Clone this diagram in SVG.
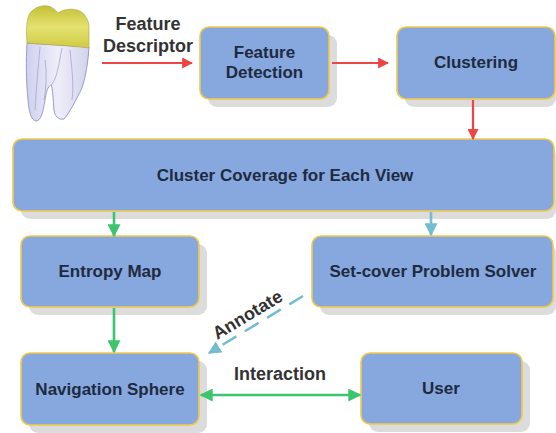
<svg xmlns="http://www.w3.org/2000/svg" width="556" height="433" viewBox="0 0 556 433">
  <defs>
    <marker id="ah-red" viewBox="0 0 10 10" refX="9" refY="5" markerWidth="11" markerHeight="11" markerUnits="userSpaceOnUse" orient="auto-start-reverse">
      <path d="M0,0 L10,5 L0,10 Z" fill="#ef4444"/>
    </marker>
    <marker id="ah-green" viewBox="0 0 10 10" refX="9" refY="5" markerWidth="13" markerHeight="13" markerUnits="userSpaceOnUse" orient="auto-start-reverse">
      <path d="M0,0 L10,5 L0,10 Z" fill="#3cc46e"/>
    </marker>
    <marker id="ah-blue" viewBox="0 0 10 10" refX="9" refY="5" markerWidth="13" markerHeight="13" markerUnits="userSpaceOnUse" orient="auto-start-reverse">
      <path d="M0,0 L10,5 L0,10 Z" fill="#74bccf"/>
    </marker>
    <linearGradient id="crown" x1="0" y1="0" x2="0" y2="1">
      <stop offset="0" stop-color="#c4c034"/>
      <stop offset="0.5" stop-color="#e4e270"/>
      <stop offset="1" stop-color="#cfcb44"/>
    </linearGradient>
    <linearGradient id="root" x1="0" y1="0" x2="1" y2="0">
      <stop offset="0" stop-color="#cfd0ee"/>
      <stop offset="0.5" stop-color="#eeeefa"/>
      <stop offset="1" stop-color="#d2d2ec"/>
    </linearGradient>
  </defs>
  <style>
    .shadow { fill: #dcdcdc; }
    .box { fill: #86a8de; stroke: #f2c84a; stroke-width: 1.6; }
    .label { font-family: "Liberation Sans", Arial, sans-serif; font-weight: bold; font-size: 17px; fill: #1e2a40; text-anchor: middle; }
    .note { font-family: "Liberation Sans", Arial, sans-serif; font-weight: bold; font-size: 18px; fill: #333333; text-anchor: middle; }
    .red { stroke: #ef4444; stroke-width: 2.2; fill: none; }
    .green { stroke: #3cc46e; stroke-width: 2.6; fill: none; }
    .blue { stroke: #74bccf; stroke-width: 2.6; fill: none; }
  </style>

  <rect width="556" height="433" fill="#ffffff"/>

  <!-- tooth model -->
  <g id="tooth">
    <path d="M27,43 C26,60 26,80 28,100 C29,112 31,120 36,121 C41,121 43,112 45,100 C46,92 48,86 51,85 C53,88 53,100 54,110 C55,117 59,120 64,119 C70,112 76,100 82,88 C86,76 88,62 89,47 Z" fill="url(#root)" stroke="#9a9cc8" stroke-width="1"/>
    <path d="M40,47 C38,70 36,90 35,110 M62,48 C58,70 56,80 51,85 M70,50 C72,70 74,85 72,100 M45,60 C47,75 46,88 44,100" fill="none" stroke="#a4a6cc" stroke-width="0.8"/>
    <path d="M27,43 C26,32 26,20 30,13 C35,7 42,5 48,6 C53,7 56,11 58,13 C62,10 70,8 77,10 C84,12 88,18 89,26 L89,48 C75,46 50,45 27,43 Z" fill="url(#crown)" stroke="#a8a44a" stroke-width="0.6"/>
  </g>

  <g id="feature-detection">
    <rect class="shadow" x="208" y="35" width="129" height="72" rx="9"/>
    <rect class="box" x="200" y="27" width="129" height="72" rx="9"/>
    <text class="label" x="264.5" y="58">Feature</text>
    <text class="label" x="264.5" y="78">Detection</text>
  </g>

  <g id="clustering">
    <rect class="shadow" x="405" y="35" width="151" height="72" rx="9"/>
    <rect class="box" x="397" y="27" width="158" height="72" rx="9"/>
    <text class="label" x="476" y="68">Clustering</text>
  </g>

  <g id="cluster-coverage">
    <rect class="shadow" x="21" y="147" width="535" height="72" rx="9"/>
    <rect class="box" x="13" y="139" width="541" height="72" rx="9"/>
    <text class="label" x="285" y="181">Cluster Coverage for Each View</text>
  </g>

  <g id="entropy-map">
    <rect class="shadow" x="29" y="244" width="178" height="71" rx="9"/>
    <rect class="box" x="21" y="236" width="178" height="71" rx="9"/>
    <text class="label" x="110" y="277">Entropy Map</text>
  </g>

  <g id="set-cover">
    <rect class="shadow" x="320" y="244" width="236" height="71" rx="9"/>
    <rect class="box" x="312" y="236" width="241" height="71" rx="9"/>
    <text class="label" x="433" y="277">Set-cover Problem Solver</text>
  </g>

  <g id="navigation-sphere">
    <rect class="shadow" x="29" y="361" width="178" height="72" rx="9"/>
    <rect class="box" x="21" y="353" width="178" height="72" rx="9"/>
    <text class="label" x="110" y="395">Navigation Sphere</text>
  </g>

  <g id="user">
    <rect class="shadow" x="369" y="361" width="161" height="71" rx="9"/>
    <rect class="box" x="361" y="353" width="161" height="71" rx="9"/>
    <text class="label" x="441" y="394">User</text>
  </g>

  <!-- connectors, drawn above the box shadows -->
  <g id="connectors">
    <line class="red" x1="102" y1="63" x2="192" y2="63" marker-end="url(#ah-red)"/>
    <line class="red" x1="332" y1="63" x2="388" y2="63" marker-end="url(#ah-red)"/>
    <line class="red" x1="473" y1="100" x2="473" y2="139" marker-end="url(#ah-red)"/>
    <line class="green" x1="114" y1="212" x2="114" y2="236" marker-end="url(#ah-green)"/>
    <line class="blue" x1="431" y1="212" x2="431" y2="235" marker-end="url(#ah-blue)"/>
    <line class="green" x1="114" y1="308" x2="114" y2="352" marker-end="url(#ah-green)"/>
    <line class="blue" x1="303" y1="296" x2="209" y2="353" stroke-dasharray="16,10" marker-end="url(#ah-blue)"/>
    <line class="green" x1="201" y1="395" x2="360" y2="395" marker-start="url(#ah-green)" marker-end="url(#ah-green)"/>
    <text class="note" x="148" y="30">Feature</text>
    <text class="note" x="148" y="52">Descriptor</text>
    <text class="note" x="247" y="321" transform="rotate(-31 247 314)">Annotate</text>
    <text class="note" x="280" y="380">Interaction</text>
  </g>
</svg>
